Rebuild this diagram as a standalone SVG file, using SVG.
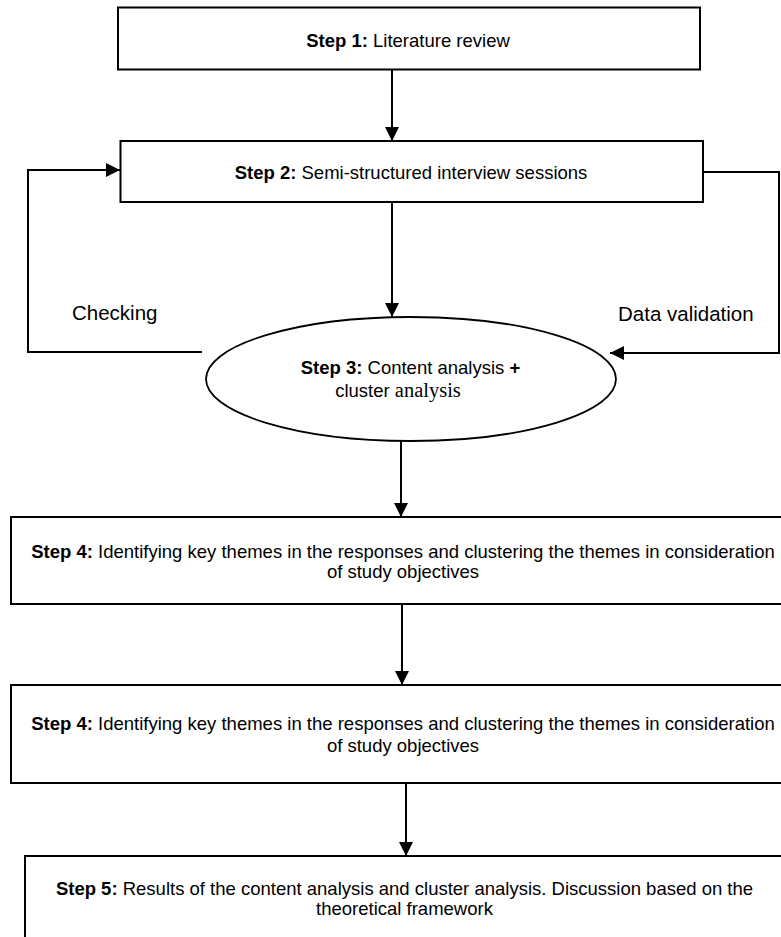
<svg xmlns="http://www.w3.org/2000/svg" width="781" height="937" viewBox="0 0 781 937">
  <style>
    .box { fill: #ffffff; stroke: #000000; stroke-width: 2; }
    .oval { fill: #ffffff; stroke: #000000; stroke-width: 1.8; }
    .edge { fill: none; stroke: #000000; stroke-width: 2; }
    .t { font-family: "Liberation Sans", Arial, sans-serif; font-size: 18.5px; fill: #000000; text-anchor: middle; }
    .b { font-weight: bold; }
    .serif { font-family: "Liberation Serif", "Times New Roman", serif; font-size: 20.5px; }
    .lbl { font-family: "Liberation Sans", Arial, sans-serif; font-size: 20.5px; fill: #000000; }
  </style>
  <defs>
    <marker id="arrow" markerUnits="userSpaceOnUse" markerWidth="15" markerHeight="15" viewBox="0 0 15 15" refX="14" refY="7.5" orient="auto">
      <path d="M0,0.5 L14,7.5 L0,14.5 Z" fill="#000000"/>
    </marker>
  </defs>

  <rect width="781" height="937" fill="#ffffff"/>

  <!-- connectors -->
  <g id="connectors">
    <line class="edge" x1="392" y1="69" x2="392" y2="141" marker-end="url(#arrow)"/>
    <line class="edge" x1="392" y1="202" x2="392" y2="317" marker-end="url(#arrow)"/>
    <line class="edge" x1="401" y1="441" x2="401" y2="517" marker-end="url(#arrow)"/>
    <line class="edge" x1="402" y1="604" x2="402" y2="685" marker-end="url(#arrow)"/>
    <line class="edge" x1="406" y1="783" x2="406" y2="856" marker-end="url(#arrow)"/>
    <!-- checking loop back to step 2 -->
    <polyline class="edge" points="202,352 28,352 28,170 120,170" marker-end="url(#arrow)"/>
    <!-- data validation loop into step 3 -->
    <polyline class="edge" points="703,172 779,172 779,353 610,353" marker-end="url(#arrow)"/>
    <text class="lbl" x="72" y="320">Checking</text>
    <text class="lbl" x="618" y="321">Data validation</text>
  </g>

  <g id="step1">
    <rect class="box" x="118" y="7.5" width="582" height="62"/>
    <text class="t" x="408" y="46.5"><tspan class="b">Step 1:</tspan>  Literature review</text>
  </g>

  <g id="step2">
    <rect class="box" x="120.5" y="141" width="582.5" height="61"/>
    <text class="t" x="411" y="179"><tspan class="b">Step 2:</tspan> Semi-structured interview sessions</text>
  </g>

  <g id="step3">
    <ellipse class="oval" cx="411" cy="379" rx="205" ry="62"/>
    <text class="t" x="410.5" y="374"><tspan class="b">Step 3:</tspan> Content analysis <tspan class="b">+</tspan></text>
    <text class="t" x="398" y="397">cluster<tspan class="serif"> analysis</tspan></text>
  </g>

  <g id="step4a">
    <rect class="box" x="11" y="517" width="785" height="87"/>
    <text class="t" x="403" y="557.5"><tspan class="b">Step 4:</tspan> Identifying key themes in the responses and clustering the themes in consideration</text>
    <text class="t" x="403" y="578">of study objectives</text>
  </g>

  <g id="step4b">
    <rect class="box" x="11" y="685" width="785" height="98"/>
    <text class="t" x="403" y="730"><tspan class="b">Step 4:</tspan> Identifying key themes in the responses and clustering the themes in consideration</text>
    <text class="t" x="403" y="751.5">of study objectives</text>
  </g>

  <g id="step5">
    <rect class="box" x="25" y="856" width="771" height="95"/>
    <text class="t" x="404.5" y="894.5"><tspan class="b">Step 5:</tspan> Results of the content analysis and cluster analysis. Discussion based on the</text>
    <text class="t" x="404.5" y="915">theoretical framework</text>
  </g>
</svg>
